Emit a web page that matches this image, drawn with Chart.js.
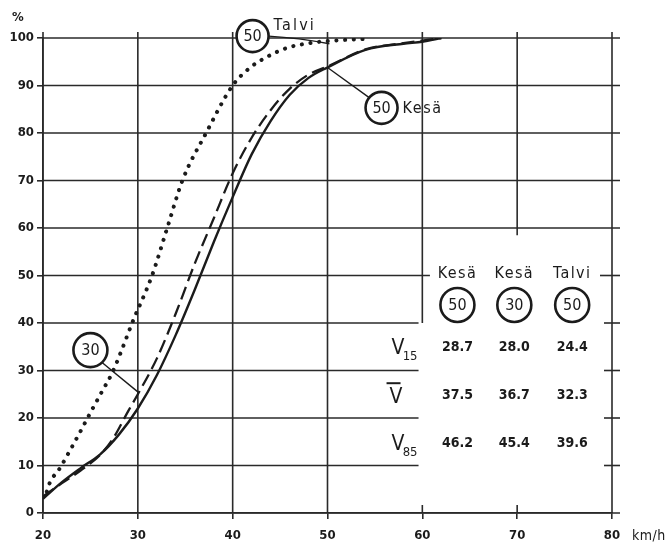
<!DOCTYPE html>
<html><head><meta charset="utf-8">
<script src="https://cdn.jsdelivr.net/npm/chart.js@4.4.1/dist/chart.umd.min.js"></script>
<style>html,body{margin:0;padding:0;background:#fff}#wrap{width:671px;height:548px;position:relative}</style>
</head><body><div id="wrap"><canvas id="c" width="671" height="548"></canvas></div>
<script>
// ---- data (speed km/h, cumulative %) ----
const speedTicks = [20, 30, 40, 50, 60, 70, 80];
const percentTicks = [0, 10, 20, 30, 40, 50, 60, 70, 80, 90, 100];

const speedsKesa50 = [20, 22, 24, 26, 28, 30, 32, 34, 36, 38, 40, 42, 44, 46, 48, 50, 54, 58, 60, 62];
const pctKesa50    = [3, 6.5, 9.5, 12.3, 16.5, 22, 29, 37.5, 47, 57, 66.5, 75.5, 82.5, 88, 91.6, 93.8, 97.5, 98.8, 99.2, 100];

const speedsKesa30 = [20, 22, 24, 26, 27.3, 29, 30, 32, 34, 36, 38, 40, 42, 44, 46, 48, 50, 54, 58, 62];
const pctKesa30    = [3.5, 6.3, 9, 12.2, 15.4, 21.5, 25, 32.5, 42, 52.5, 62, 71.5, 79, 84.8, 89.3, 92.3, 94, 97.6, 98.9, 100];

const speedsTalvi50 = [20.4, 20.7, 21.8, 22.8, 23.9, 24.7, 26.2, 27.3, 28.3, 29.4, 31.5, 33.1, 34.7, 37.2, 40, 41.8, 43.6, 45.7, 48.4, 51, 54];
const pctTalvi50    = [4.5, 6.3, 9.5, 13, 17, 20, 25.5, 29.5, 34.3, 40, 50, 60, 70, 80, 90, 93.7, 96, 97.9, 99, 99.5, 99.8];

const tableColumns = ['Kesä', 'Kesä', 'Talvi'];
const tableLimits = ['50', '30', '50'];
const v15Values  = ['28.7', '28.0', '24.4'];
const vMeanValues = ['37.5', '36.7', '32.3'];
const v85Values  = ['46.2', '45.4', '39.6'];

const toPoints = (xs, ys) => xs.map((v, i) => ({x: v, y: ys[i]}));

const ink = '#1b1b1b';
const FONT = "'DejaVu Sans Condensed', 'DejaVu Sans', sans-serif";

const gridPlugin = {
  id: 'customGrid',
  beforeDatasetsDraw(chart) {
    const {ctx, scales: {x, y}} = chart;
    const X = v => x.getPixelForValue(v), Y = v => y.getPixelForValue(v);
    const seg = (x1, y1, x2, y2) => { ctx.beginPath(); ctx.moveTo(x1, y1); ctx.lineTo(x2, y2); ctx.stroke(); };
    ctx.save();
    ctx.strokeStyle = '#2a2a2a';
    ctx.lineWidth = 1.6;
    [0, 60, 70, 80, 90, 100].forEach(p => seg(X(20), Y(p), X(80) + 8, Y(p)));
    [10, 20, 30, 40].forEach(p => { seg(X(20), Y(p), X(59.6), Y(p)); seg(X(80) - 8, Y(p), X(80) + 8, Y(p)); });
    seg(X(20), Y(50), X(60.8), Y(50));
    seg(X(80) - 12, Y(50), X(80) + 8, Y(50));
    [20, 30, 40, 50, 80].forEach(v => seg(X(v), Y(0), X(v), Y(100) - 6));
    seg(X(60), Y(40), X(60), Y(100) - 6);
    seg(X(70), Y(58.5), X(70), Y(100) - 6);
    [60, 70].forEach(v => seg(X(v), Y(0), X(v), Y(0) - 8));
    ctx.restore();
  },
  afterDatasetsDraw(chart) {
    const {ctx, scales: {x, y}} = chart;
    const X = v => x.getPixelForValue(v), Y = v => y.getPixelForValue(v);
    ctx.save();
    ctx.fillStyle = ink;
    ctx.strokeStyle = ink;
    const setText = (size, spacing, align) => {
      ctx.font = size + 'px ' + FONT;
      ctx.letterSpacing = spacing + 'px';
      ctx.textAlign = align; ctx.textBaseline = 'middle';
      ctx.fillStyle = ink;
    };
    const circle = (cx, cy, r, label) => {
      ctx.lineWidth = 2.6;
      ctx.fillStyle = '#fff';
      ctx.beginPath(); ctx.arc(cx, cy, r, 0, Math.PI * 2); ctx.fill(); ctx.stroke();
      setText(16, 0, 'center');
      ctx.fillText(label, cx, cy + 1);
    };
    const line = (x1, y1, x2, y2, w) => { ctx.lineWidth = w; ctx.beginPath(); ctx.moveTo(x1, y1); ctx.lineTo(x2, y2); ctx.stroke(); };

    // Talvi label
    ctx.lineWidth = 1.4;
    ctx.beginPath(); ctx.moveTo(X(42.1) + 16, Y(100.4)); ctx.quadraticCurveTo(X(47), Y(100), X(50.2), Y(98.8)); ctx.stroke();
    circle(X(42.1), Y(100.4), 16, '50');
    setText(16, 2.2, 'left');
    ctx.fillText('Talvi', X(42.1) + 21, Y(100.4) - 10);

    // Kesä label
    line(X(50), Y(93.8), X(55.7) - 12, Y(85.3) - 10, 1.4);
    circle(X(55.7), Y(85.3), 16, '50');
    setText(16, 1.6, 'left');
    ctx.fillText('Kesä', X(55.7) + 21, Y(85.3) + 1);

    // 30 label
    line(X(25) + 11, Y(34.3) + 12, X(30), Y(25.5), 1.4);
    circle(X(25), Y(34.3), 17, '30');

    // table
    const cols = [63.7, 69.7, 75.8];
    tableColumns.forEach((t, i) => { setText(16, 1.4, 'center'); ctx.fillText(t, X(cols[i]), Y(50.3)); });
    tableLimits.forEach((t, i) => circle(X(cols[i]), Y(43.8), 17, t));
    ctx.fillStyle = ink;
    ctx.letterSpacing = '0px';
    ctx.font = 'bold 14px ' + FONT; ctx.textAlign = 'center'; ctx.textBaseline = 'middle';
    const rows = [[34.9, v15Values], [24.8, vMeanValues], [14.7, v85Values]];
    rows.forEach(([p, vals]) => vals.forEach((t, i) => ctx.fillText(t, X(cols[i]), Y(p))));

    // row labels
    const lx = X(59.6) - 1;
    ctx.textAlign = 'right'; ctx.textBaseline = 'alphabetic';
    ctx.font = '21px ' + FONT;
    ctx.fillText('V', lx - 13, Y(34.9) + 7);
    ctx.font = '13px ' + FONT;
    ctx.fillText('15', lx, Y(34.9) + 13);
    ctx.font = '21px ' + FONT;
    ctx.fillText('V', lx - 15, Y(24.8) + 8);
    line(lx - 31, Y(24.8) - 12, lx - 17, Y(24.8) - 12, 2);
    ctx.font = '21px ' + FONT;
    ctx.textAlign = 'right';
    ctx.fillText('V', lx - 13, Y(14.7) + 7);
    ctx.font = '13px ' + FONT;
    ctx.fillText('85', lx, Y(14.7) + 13);

    // axis unit labels
    setText(14, 0.5, 'left');
    ctx.fillText('km/h', X(80) + 20, Y(0) + 23);
    ctx.letterSpacing = '0px';
    ctx.font = 'bold 13px ' + FONT;
    ctx.fillText('%', 12, Y(100) - 20);
    ctx.restore();
  }
};

new Chart(document.getElementById('c'), {
  type: 'line',
  data: {
    datasets: [
      { label: 'Kesä 50', data: toPoints(speedsKesa50, pctKesa50), borderColor: ink, borderWidth: 2.4, pointRadius: 0, cubicInterpolationMode: 'monotone', fill: false },
      { label: 'Kesä 30', data: toPoints(speedsKesa30, pctKesa30), borderColor: ink, borderWidth: 2.3, borderDash: [13, 6], pointRadius: 0, cubicInterpolationMode: 'monotone', fill: false },
      { label: 'Talvi 50', data: toPoints(speedsTalvi50, pctTalvi50), borderColor: ink, borderWidth: 4, borderDash: [0.1, 8.6], borderCapStyle: 'round', pointRadius: 0, cubicInterpolationMode: 'monotone', fill: false }
    ]
  },
  options: {
    responsive: false,
    animation: false,
    devicePixelRatio: 1,
    layout: { padding: { top: 38, right: 59, left: 0, bottom: 0 } },
    plugins: { legend: { display: false }, tooltip: { enabled: false } },
    scales: {
      x: {
        type: 'linear', min: 20, max: 80,
        afterBuildTicks: s => { s.ticks = speedTicks.map(v => ({value: v})); },
        afterFit: s => { s.height = 35; },
        ticks: { color: ink, font: { family: FONT, size: 13, weight: 'bold' }, padding: 9, maxRotation: 0 },
        grid: { drawOnChartArea: false, drawTicks: true, tickLength: 6, color: '#2a2a2a', lineWidth: 1.6 },
        border: { display: true, color: '#2a2a2a', width: 1.6 }
      },
      y: {
        type: 'linear', min: 0, max: 100,
        afterBuildTicks: s => { s.ticks = percentTicks.map(v => ({value: v})); },
        afterFit: s => { s.width = 43; },
        ticks: { color: ink, font: { family: FONT, size: 13, weight: 'bold' }, padding: 3 },
        grid: { drawOnChartArea: false, drawTicks: true, tickLength: 6, color: '#2a2a2a', lineWidth: 1.6 },
        border: { display: true, color: '#2a2a2a', width: 1.6 }
      }
    }
  },
  plugins: [gridPlugin]
});
</script>
</body></html>
